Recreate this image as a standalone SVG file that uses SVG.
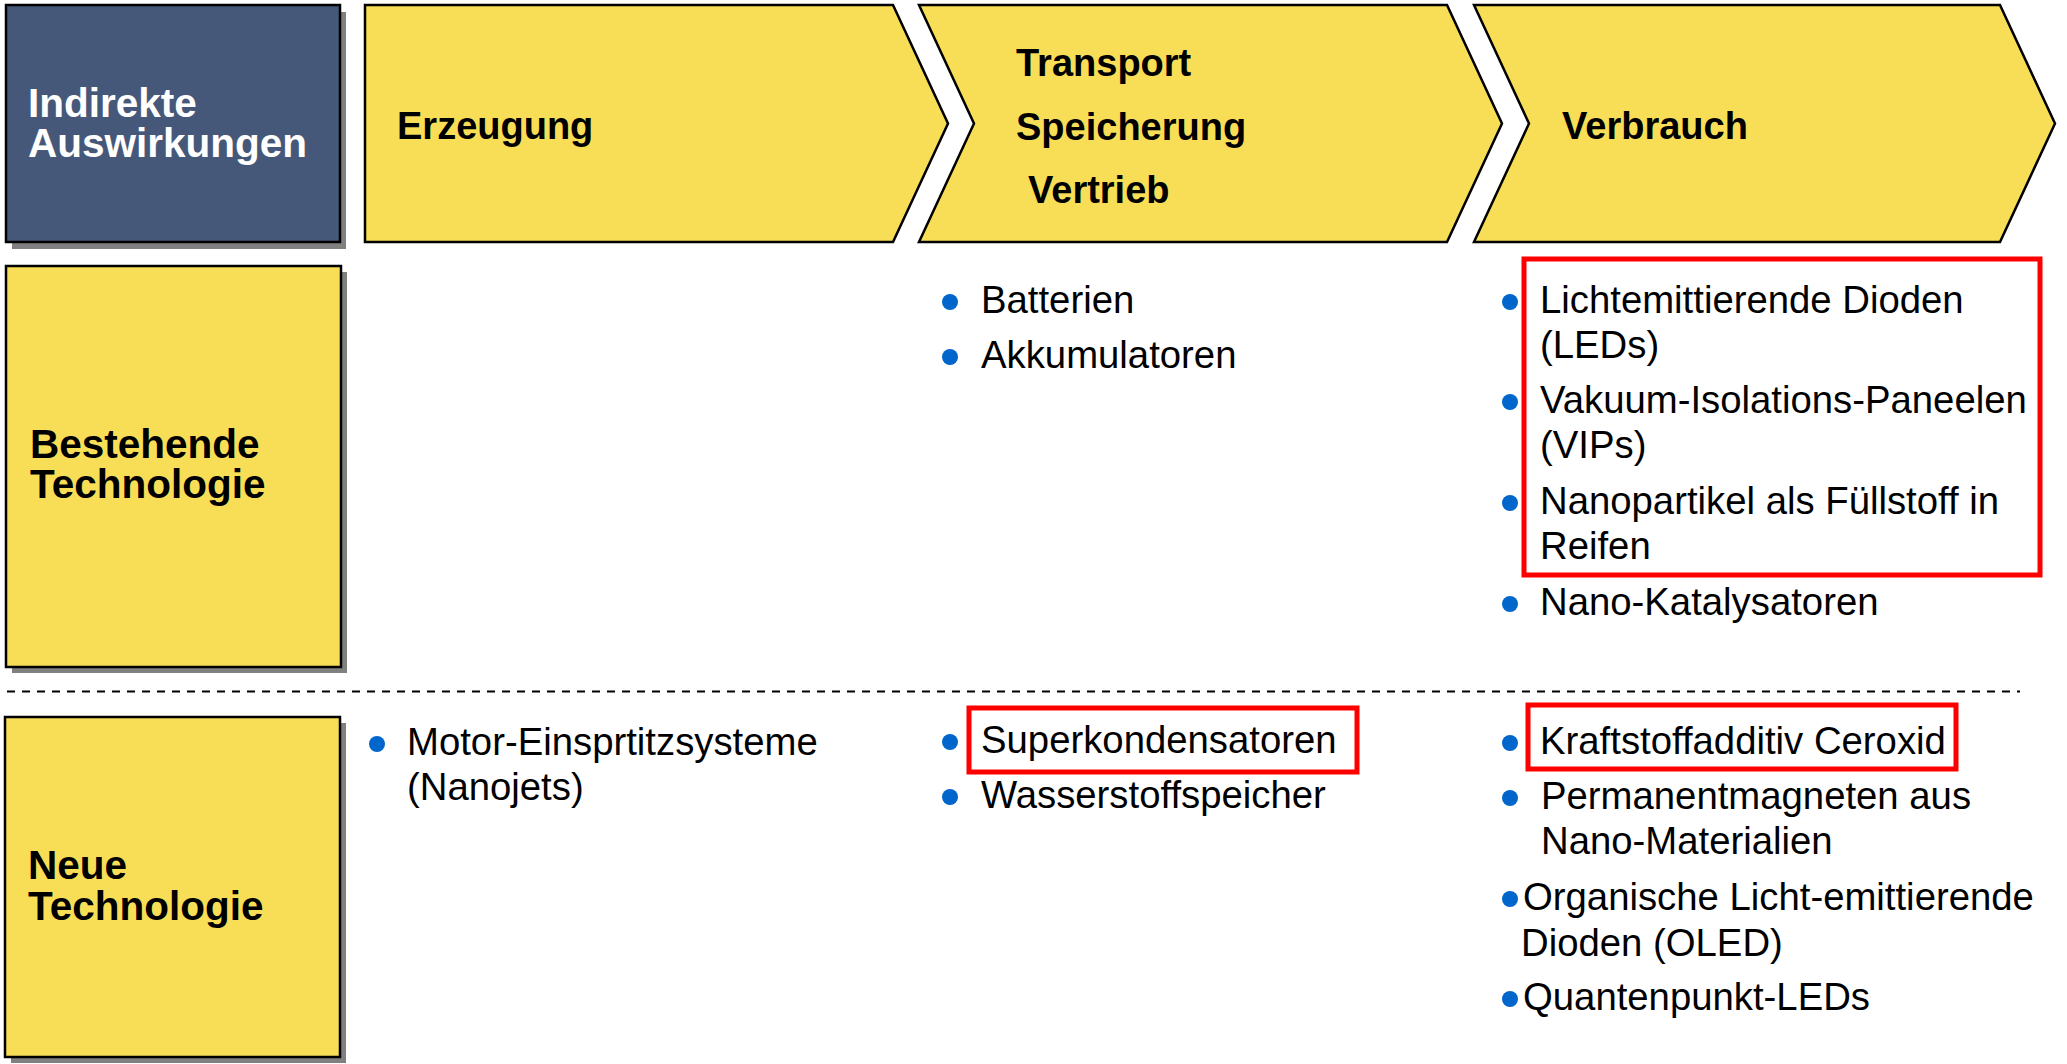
<svg xmlns="http://www.w3.org/2000/svg" width="2067" height="1064" viewBox="0 0 2067 1064">
  <style>
    .box { stroke: #000; stroke-width: 2.5; }
    .yellow { fill: #F8DE56; }
    .navy { fill: #46587A; }
    .shadow { fill: #808080; }
    .head { font-family: "Liberation Sans", Arial, sans-serif; font-weight: bold; font-size: 38px; fill: #000; }
    .side { font-family: "Liberation Sans", Arial, sans-serif; font-weight: bold; font-size: 40.5px; }
    .item { font-family: "Liberation Sans", Arial, sans-serif; font-size: 38.3px; fill: #000; }
    .dot { fill: #0066CC; }
    .mark { fill: none; stroke: #FF0000; stroke-width: 5; }
  </style>
  <rect width="2067" height="1064" fill="#fff"/>

  <!-- row / column headers -->
  <g id="indirekte-auswirkungen">
    <rect class="shadow" x="12" y="12" width="334" height="237"/>
    <rect class="box navy" x="6" y="5" width="334" height="237"/>
    <text class="side" fill="#fff" x="28" y="117">Indirekte</text>
    <text class="side" fill="#fff" x="28" y="157">Auswirkungen</text>
  </g>

  <g id="erzeugung">
    <polygon class="box yellow" points="365,5 893,5 948,123.5 893,242 365,242"/>
    <text class="head" x="397" y="139">Erzeugung</text>
  </g>

  <g id="transport">
    <polygon class="box yellow" points="919,5 1447,5 1502,123.5 1447,242 919,242 974,123.5"/>
    <text class="head" x="1016" y="76">Transport</text>
    <text class="head" x="1016" y="140">Speicherung</text>
    <text class="head" x="1028" y="203">Vertrieb</text>
  </g>

  <g id="verbrauch">
    <polygon class="box yellow" points="1474,5 2000,5 2055,123.5 2000,242 1474,242 1529,123.5"/>
    <text class="head" x="1562" y="139">Verbrauch</text>
  </g>

  <g id="bestehende-technologie">
    <rect class="shadow" x="12" y="272" width="335" height="401"/>
    <rect class="box yellow" x="6" y="266" width="335" height="401"/>
    <text class="side" fill="#000" x="30" y="458">Bestehende</text>
    <text class="side" fill="#000" x="30" y="498">Technologie</text>
  </g>

  <g id="neue-technologie">
    <rect class="shadow" x="11" y="723" width="335" height="340"/>
    <rect class="box yellow" x="5" y="717" width="335" height="340"/>
    <text class="side" fill="#000" x="28" y="879">Neue</text>
    <text class="side" fill="#000" x="28" y="920">Technologie</text>
  </g>

  <!-- separator between existing and new technology -->
  <g id="connectors">
    <line x1="7" y1="691.5" x2="2020" y2="691.5" stroke="#000" stroke-width="2" stroke-dasharray="8 7"/>
  </g>

  <!-- existing technology: transport / storage -->
  <g id="bestehend-transport">
    <circle class="dot" cx="950" cy="302" r="8"/>
    <text class="item" x="981" y="313">Batterien</text>
    <circle class="dot" cx="950" cy="357" r="8"/>
    <text class="item" x="981" y="368">Akkumulatoren</text>
  </g>

  <!-- existing technology: consumption -->
  <g id="bestehend-verbrauch">
    <rect class="mark" x="1524" y="259" width="516" height="316"/>
    <circle class="dot" cx="1510" cy="302" r="8"/>
    <text class="item" x="1540" y="313">Lichtemittierende Dioden</text>
    <text class="item" x="1540" y="358">(LEDs)</text>
    <circle class="dot" cx="1510" cy="402" r="8"/>
    <text class="item" x="1540" y="413">Vakuum-Isolations-Paneelen</text>
    <text class="item" x="1540" y="458">(VIPs)</text>
    <circle class="dot" cx="1510" cy="503" r="8"/>
    <text class="item" x="1540" y="514">Nanopartikel als Füllstoff in</text>
    <text class="item" x="1540" y="559">Reifen</text>
    <circle class="dot" cx="1510" cy="604" r="8"/>
    <text class="item" x="1540" y="615">Nano-Katalysatoren</text>
  </g>

  <!-- new technology: generation -->
  <g id="neu-erzeugung">
    <circle class="dot" cx="377" cy="744" r="8"/>
    <text class="item" x="407" y="755">Motor-Einsprtitzsysteme</text>
    <text class="item" x="407" y="800">(Nanojets)</text>
  </g>

  <!-- new technology: transport / storage -->
  <g id="neu-transport">
    <rect class="mark" x="969" y="708" width="388" height="64"/>
    <circle class="dot" cx="950" cy="742" r="8"/>
    <text class="item" x="981" y="753">Superkondensatoren</text>
    <circle class="dot" cx="950" cy="797" r="8"/>
    <text class="item" x="981" y="808">Wasserstoffspeicher</text>
  </g>

  <!-- new technology: consumption -->
  <g id="neu-verbrauch">
    <rect class="mark" x="1528" y="705" width="428" height="64"/>
    <circle class="dot" cx="1510" cy="743" r="8"/>
    <text class="item" x="1540" y="754">Kraftstoffadditiv Ceroxid</text>
    <circle class="dot" cx="1510" cy="798" r="8"/>
    <text class="item" x="1541" y="809">Permanentmagneten aus</text>
    <text class="item" x="1541" y="854">Nano-Materialien</text>
    <circle class="dot" cx="1510" cy="899" r="8"/>
    <text class="item" x="1523" y="910">Organische Licht-emittierende</text>
    <text class="item" x="1521" y="956">Dioden (OLED)</text>
    <circle class="dot" cx="1510" cy="999" r="8"/>
    <text class="item" x="1523" y="1010">Quantenpunkt-LEDs</text>
  </g>
</svg>
